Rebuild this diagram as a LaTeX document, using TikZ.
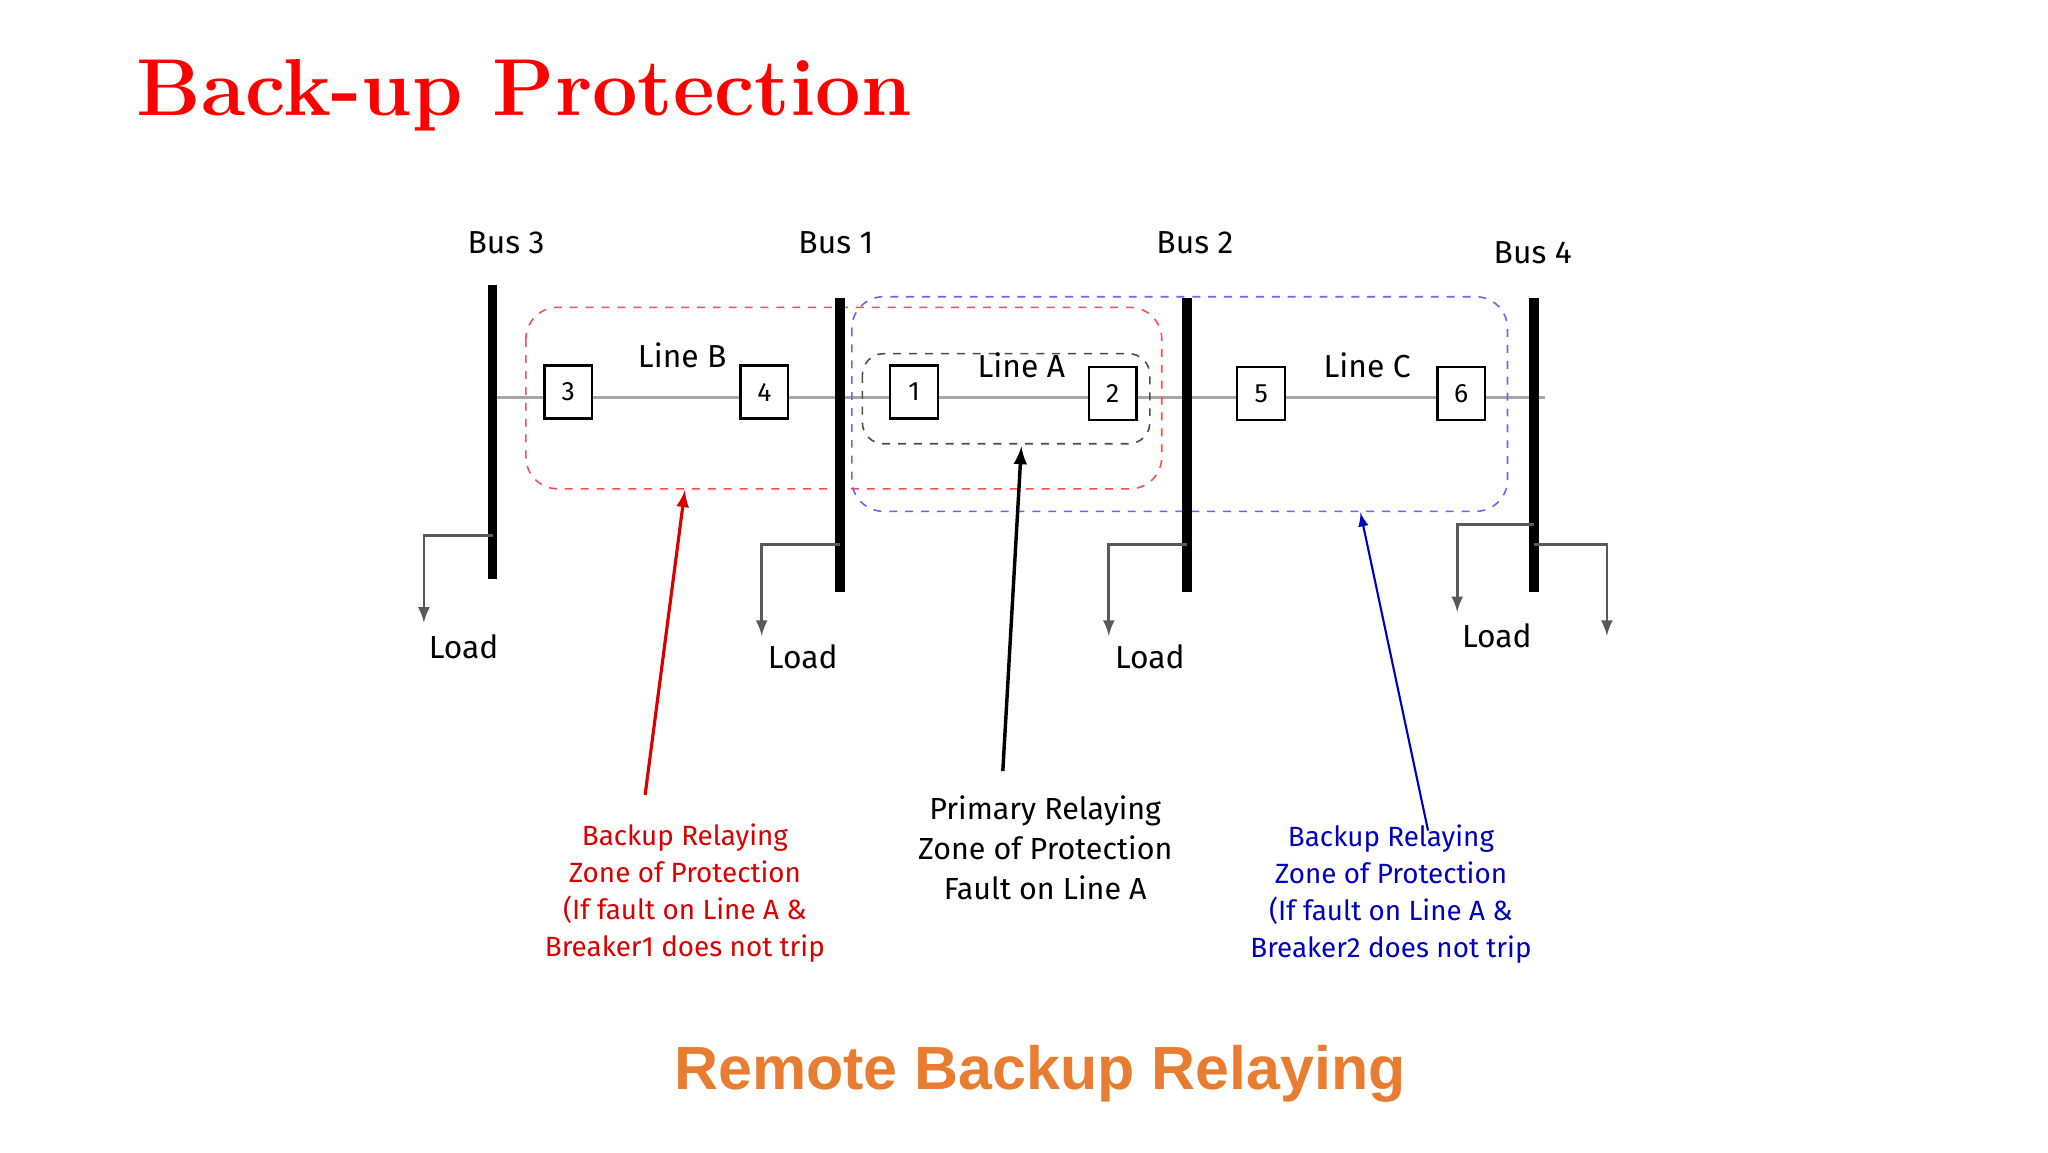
\documentclass[tikz,border=0pt]{standalone}
\usepackage{fontspec}
\setmainfont{Fira Sans}
\newfontfamily\titlef{Latin Modern Roman}
\newfontfamily\capf{Liberation Sans}
\begin{document}
\begin{tikzpicture}[x=0.5pt,y=-0.5pt,
 bus/.style={line width=3.5pt},
 brk/.style={draw,line width=0.9pt,fill=white,minimum width=18pt,minimum height=20pt,inner sep=0pt,font=\fontsize{10}{12}\selectfont},
 lbl/.style={font=\fontsize{12}{14}\selectfont},
 ld/.style={draw=gray!70!black,line width=1pt,-latex},
 note/.style={font=\fontsize{10.5}{14}\selectfont,align=center}]
\useasboundingbox (0,0) rectangle (1546,870);
\node[anchor=west,text=red,font=\titlef\bfseries\fontsize{30.5}{36}\selectfont] (title) at (96,72) {Back-up Protection};
% feeder line
\coordinate (l0) at (372,300); \coordinate (l1) at (1166,300);
\draw[gray!70,line width=1.3pt] (l0) -- (l1);
% zones
\draw[red!70,dashed,rounded corners=12pt,line width=0.6pt] (397,232) rectangle (877,369);
\draw[blue!60,dashed,rounded corners=12pt,line width=0.6pt] (643,224) rectangle (1138,386);
\draw[black!70,dashed,rounded corners=8pt,line width=0.6pt] (651,267) rectangle (868,335);
% buses
\draw[bus] (372,215) -- (372,437);
\draw[bus] (634,225) -- (634,447);
\draw[bus] (896,225) -- (896,447);
\draw[bus] (1158,225) -- (1158,447);
\node[lbl] (n3) at (382,183) {Bus 3};
\node[lbl] (n1) at (631,183) {Bus 1};
\node[lbl] (n2) at (902,183) {Bus 2};
\node[lbl] (n4) at (1157,191) {Bus 4};
% breakers
\node[brk] (k3) at (429,296) {3};
\node[brk] (k4) at (577,296) {4};
\node[brk] (k1) at (690,296) {1};
\node[brk] (k2) at (840,297) {2};
\node[brk] (k5) at (952,297) {5};
\node[brk] (k6) at (1103,297) {6};
\node[lbl] (lb) at (515,268) {Line B};
\node[lbl] (la) at (771,276) {Line A};
\node[lbl] (lc) at (1032,276) {Line C};
% loads
\draw[ld] (372,404) -- (320,404) -- (320,470);
\draw[ld] (634,411) -- (575,411) -- (575,480);
\draw[ld] (896,411) -- (837,411) -- (837,480);
\draw[ld] (1158,396) -- (1100,396) -- (1100,462);
\draw[ld] (1158,411) -- (1213,411) -- (1213,480);
\node[lbl] (d3) at (350,488) {Load};
\node[lbl] (d1) at (606,496) {Load};
\node[lbl] (d2) at (868,496) {Load};
\node[lbl] (d4) at (1130,480) {Load};
% notes
\node[note,text=red!85!black] (rn) at (517,674) {Backup Relaying\\Zone of Protection\\(If fault on Line A \&\\Breaker1 does not trip};
\node[note,font=\fontsize{11.5}{15}\selectfont] (bn) at (789,640) {Primary Relaying\\Zone of Protection\\Fault on Line A};
\node[note,text=blue!75!black] (un) at (1050,675) {Backup Relaying\\Zone of Protection\\(If fault on Line A \&\\Breaker2 does not trip};
\coordinate (ra) at (517,370); \coordinate (ba) at (771,337); \coordinate (ua) at (1027,387);
\draw[red!85!black,line width=1.2pt,-latex] (487,600) -- (ra);
\draw[black,line width=1.3pt,-latex] (757,582) -- (ba);
\draw[blue!75!black,line width=0.8pt,-latex] (1078,627) -- (ua);
\node[text={rgb,255:red,232;green,125;blue,50},font=\capf\bfseries\fontsize{23}{26}\selectfont] (cap) at (785,811) {Remote Backup Relaying};
\end{tikzpicture}
\end{document}
